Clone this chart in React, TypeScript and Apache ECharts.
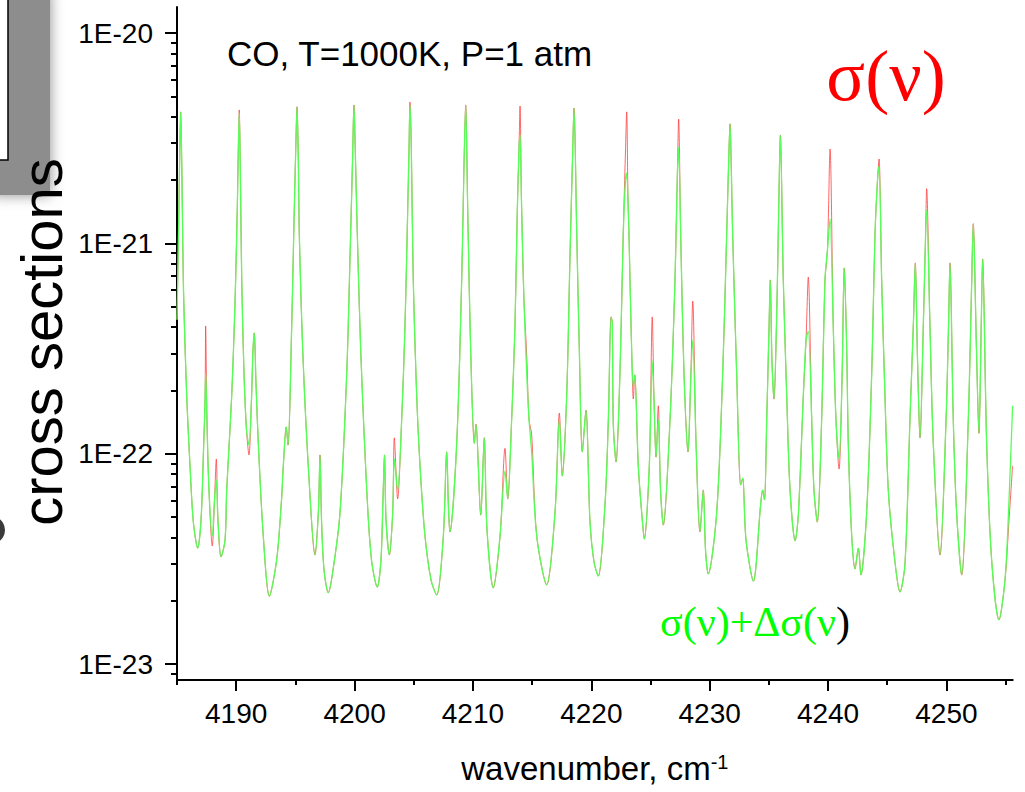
import React, { useEffect, useRef } from "react";
import * as echarts from "echarts";

// ---- Data ----
// wavenumber, cm^-1
const wavenumber = [
  4185.00, 4185.13, 4185.24, 4185.31, 4185.41, 4185.55, 4185.82, 4186.10, 4186.38, 4186.75,
  4187.03, 4187.24, 4187.37, 4187.42, 4187.53, 4187.70, 4187.98, 4188.17, 4188.32, 4188.46,
  4188.72, 4189.06, 4189.20, 4189.62, 4189.90, 4190.09, 4190.18, 4190.26, 4190.36, 4190.47,
  4190.66, 4190.87, 4191.08, 4191.29, 4191.42, 4191.53, 4191.67, 4191.87, 4192.29, 4192.80,
  4193.42, 4193.83, 4193.98, 4194.23, 4194.38, 4194.69, 4194.88, 4195.03, 4195.14, 4195.25,
  4195.33, 4195.62, 4196.09, 4196.66, 4196.95, 4197.08, 4197.21, 4197.42, 4197.78, 4198.18,
  4198.77, 4199.34, 4199.62, 4199.83, 4199.95, 4200.06, 4200.18, 4200.52, 4201.03, 4201.43,
  4201.92, 4202.23, 4202.40, 4202.53, 4202.66, 4202.94, 4203.22, 4203.36, 4203.64, 4203.98,
  4204.26, 4204.49, 4204.60, 4204.68, 4204.79, 4204.96, 4205.25, 4205.53, 4205.95, 4206.46,
  4206.94, 4207.50, 4207.78, 4207.94, 4208.06, 4208.63, 4209.05, 4209.25, 4209.39, 4209.56,
  4209.81, 4210.12, 4210.26, 4210.66, 4210.96, 4211.19, 4211.72, 4212.29, 4212.71, 4212.94,
  4213.27, 4213.55, 4213.75, 4213.89, 4213.98, 4214.10, 4214.31, 4214.54, 4214.74, 4214.96,
  4215.39, 4216.23, 4216.93, 4217.30, 4217.55, 4217.92, 4218.20, 4218.41, 4218.54, 4218.77,
  4218.99, 4219.24, 4219.55, 4219.89, 4220.23, 4220.59, 4221.16, 4221.44, 4221.67, 4221.77,
  4221.86, 4222.09, 4222.42, 4222.70, 4222.89, 4222.99, 4223.10, 4223.18, 4223.41, 4223.55,
  4223.67, 4223.97, 4224.26, 4224.48, 4224.90, 4225.15, 4225.30, 4225.47, 4225.66, 4225.85,
  4226.08, 4226.65, 4227.07, 4227.26, 4227.38, 4227.55, 4227.83, 4228.17, 4228.40, 4228.57,
  4228.85, 4229.18, 4229.46, 4229.65, 4229.88, 4230.59, 4231.10, 4231.44, 4231.61, 4231.72,
  4231.83, 4231.94, 4232.28, 4232.62, 4232.79, 4233.07, 4233.69, 4234.31, 4234.48, 4234.63,
  4234.82, 4235.01, 4235.12, 4235.26, 4235.43, 4235.69, 4235.86, 4235.97, 4236.22, 4236.51,
  4236.79, 4237.22, 4237.49, 4237.91, 4238.14, 4238.33, 4238.62, 4238.81, 4239.09, 4239.46,
  4239.74, 4239.95, 4240.17, 4240.44, 4240.67, 4240.93, 4241.18, 4241.37, 4241.58, 4241.71,
  4242.00, 4242.28, 4242.56, 4242.78, 4243.26, 4243.69, 4243.97, 4244.18, 4244.31, 4244.53,
  4244.81, 4245.09, 4245.57, 4246.08, 4246.50, 4246.92, 4247.22, 4247.37, 4247.56, 4247.77,
  4248.06, 4248.23, 4248.33, 4248.61, 4248.89, 4249.46, 4249.97, 4250.19, 4250.30, 4250.58,
  4250.85, 4251.29, 4251.85, 4252.12, 4252.27, 4252.54, 4252.75, 4252.95, 4253.06, 4253.40,
  4253.82, 4254.44, 4254.95, 4255.29, 4255.59,
];

// sigma(nu) — red curve
const sigma = [
  4.33e-22, 1.16e-21, 2.78e-21, 4.22e-21, 2.23e-21, 6.0e-22, 1.88e-22, 8.75e-23, 4.73e-23, 3.56e-23,
  4.84e-23, 1.04e-22, 1.80e-22, 4.05e-22, 1.45e-22, 6.72e-23, 3.64e-23, 6.03e-23, 9.44e-23, 4.84e-23,
  3.23e-23, 3.89e-23, 6.72e-23, 1.88e-22, 5.21e-22, 1.44e-21, 2.78e-21, 4.31e-21, 2.0e-21, 6.70e-22,
  2.42e-22, 1.30e-22, 9.86e-23, 1.80e-22, 3.11e-22, 3.75e-22, 2.19e-22, 1.12e-22, 4.06e-23, 2.10e-23,
  3.13e-23, 6.03e-23, 8.75e-23, 1.34e-22, 1.10e-22, 4.05e-22, 1.24e-21, 2.78e-21, 4.46e-21, 2.49e-21,
  1.12e-21, 3.11e-22, 8.75e-23, 3.30e-23, 5.40e-23, 9.86e-23, 4.84e-23, 2.80e-23, 2.18e-23, 2.80e-23,
  5.22e-23, 2.42e-22, 8.71e-22, 2.49e-21, 4.55e-21, 2.78e-21, 1.44e-21, 3.11e-22, 6.72e-23, 3.13e-23,
  2.32e-23, 3.13e-23, 6.03e-23, 9.86e-23, 4.84e-23, 3.30e-23, 5.22e-23, 1.19e-22, 6.10e-23, 1.45e-22,
  4.05e-22, 1.44e-21, 2.78e-21, 4.70e-21, 2.94e-21, 6.70e-22, 1.88e-22, 8.75e-23, 4.06e-23, 2.51e-23,
  2.13e-23, 4.06e-23, 1.02e-22, 5.40e-23, 4.25e-23, 1.12e-22, 6.70e-22, 2.41e-21, 4.55e-21, 1.44e-21,
  3.11e-22, 1.12e-22, 1.38e-22, 5.11e-23, 1.19e-22, 4.34e-23, 2.30e-23, 4.06e-23, 1.06e-22, 6.10e-23,
  1.45e-22, 4.05e-22, 1.44e-21, 2.78e-21, 4.50e-21, 1.61e-21, 5.38e-22, 2.98e-22, 1.45e-22, 1.24e-22,
  4.06e-23, 2.38e-23, 5.22e-23, 1.56e-22, 7.83e-23, 1.88e-22, 8.71e-22, 2.49e-21, 4.40e-21, 1.12e-21,
  3.11e-22, 1.02e-22, 1.61e-22, 4.73e-23, 3.05e-23, 2.62e-23, 5.77e-23, 1.45e-22, 4.47e-22, 4.23e-22,
  1.38e-22, 9.14e-23, 2.42e-22, 1.12e-21, 2.78e-21, 4.22e-21, 1.61e-21, 1.12e-21, 3.11e-22, 1.82e-22,
  2.37e-22, 8.75e-23, 5.22e-23, 3.93e-23, 8.75e-23, 4.47e-22, 1.80e-22, 9.64e-23, 1.69e-22, 6.72e-23,
  4.58e-23, 1.45e-22, 6.70e-22, 2.0e-21, 3.90e-21, 1.12e-21, 2.42e-22, 1.02e-22, 2.24e-22, 5.32e-22,
  1.12e-22, 4.25e-23, 6.72e-23, 3.48e-23, 2.68e-23, 5.22e-23, 2.42e-22, 1.12e-21, 2.49e-21, 3.70e-21,
  2.23e-21, 1.12e-21, 2.42e-22, 7.10e-23, 7.66e-23, 3.89e-23, 2.48e-23, 5.77e-23, 6.72e-23, 6.03e-23,
  1.45e-22, 3.87e-22, 6.70e-22, 2.79e-22, 1.82e-22, 5.38e-22, 1.79e-21, 3.27e-21, 6.70e-22, 1.88e-22,
  6.72e-23, 3.85e-23, 5.11e-23, 1.88e-22, 3.47e-22, 6.92e-22, 1.45e-22, 6.72e-23, 4.73e-23, 1.45e-22,
  6.70e-22, 9.31e-22, 2.81e-21, 4.05e-22, 1.45e-22, 8.45e-23, 2.24e-22, 7.64e-22, 3.11e-22, 1.12e-22,
  4.06e-23, 2.83e-23, 3.56e-23, 2.65e-23, 5.22e-23, 2.42e-22, 1.12e-21, 2.0e-21, 2.52e-21, 6.70e-22,
  1.88e-22, 6.72e-23, 3.37e-23, 2.20e-23, 2.99e-23, 1.45e-22, 4.33e-22, 8.07e-22, 2.79e-22, 1.19e-22,
  4.33e-22, 1.04e-21, 1.82e-21, 4.05e-22, 1.12e-22, 3.30e-23, 1.45e-22, 4.33e-22, 8.07e-22, 1.45e-22,
  5.40e-23, 2.65e-23, 1.45e-22, 6.0e-22, 1.24e-21, 3.11e-22, 1.25e-22, 4.33e-22, 8.43e-22, 1.12e-22,
  3.13e-23, 1.62e-23, 2.51e-23, 4.84e-23, 8.75e-23,
];

// sigma(nu) + delta sigma(nu) — green curve
const sigmaPlusDelta = [
  4.33e-22, 1.16e-21, 2.78e-21, 4.22e-21, 2.23e-21, 6.0e-22, 1.88e-22, 8.75e-23, 4.73e-23, 3.56e-23,
  4.84e-23, 1.04e-22, 1.80e-22, 2.42e-22, 1.45e-22, 6.72e-23, 4.06e-23, 6.03e-23, 7.50e-23, 4.84e-23,
  3.23e-23, 3.89e-23, 6.72e-23, 1.88e-22, 5.21e-22, 1.44e-21, 2.78e-21, 4.17e-21, 2.0e-21, 6.70e-22,
  2.42e-22, 1.30e-22, 1.10e-22, 1.80e-22, 3.11e-22, 3.75e-22, 2.19e-22, 1.12e-22, 4.06e-23, 2.10e-23,
  3.13e-23, 6.03e-23, 8.75e-23, 1.34e-22, 1.10e-22, 4.05e-22, 1.24e-21, 2.78e-21, 4.46e-21, 2.49e-21,
  1.12e-21, 3.11e-22, 8.75e-23, 3.30e-23, 5.40e-23, 9.86e-23, 4.84e-23, 2.80e-23, 2.18e-23, 2.80e-23,
  5.22e-23, 2.42e-22, 8.71e-22, 2.49e-21, 4.55e-21, 2.78e-21, 1.44e-21, 3.11e-22, 6.72e-23, 3.13e-23,
  2.32e-23, 3.13e-23, 6.03e-23, 9.86e-23, 4.84e-23, 3.30e-23, 5.22e-23, 9.44e-23, 6.72e-23, 1.45e-22,
  4.05e-22, 1.44e-21, 2.78e-21, 4.55e-21, 2.94e-21, 6.70e-22, 1.88e-22, 8.75e-23, 4.06e-23, 2.51e-23,
  2.13e-23, 4.06e-23, 1.02e-22, 5.40e-23, 4.25e-23, 1.12e-22, 6.70e-22, 2.41e-21, 4.55e-21, 1.44e-21,
  3.11e-22, 1.12e-22, 1.38e-22, 5.11e-23, 1.19e-22, 4.34e-23, 2.30e-23, 4.06e-23, 8.28e-23, 6.10e-23,
  1.45e-22, 4.05e-22, 1.44e-21, 2.78e-21, 3.27e-21, 1.61e-21, 5.38e-22, 2.45e-22, 1.45e-22, 1.02e-22,
  4.06e-23, 2.38e-23, 5.22e-23, 1.45e-22, 7.83e-23, 1.88e-22, 8.71e-22, 2.49e-21, 4.40e-21, 1.12e-21,
  3.11e-22, 1.02e-22, 1.61e-22, 4.73e-23, 3.05e-23, 2.62e-23, 5.77e-23, 1.45e-22, 4.47e-22, 4.23e-22,
  1.38e-22, 9.14e-23, 2.42e-22, 1.12e-21, 2.0e-21, 2.16e-21, 1.61e-21, 1.12e-21, 3.11e-22, 2.07e-22,
  2.37e-22, 8.75e-23, 5.22e-23, 3.93e-23, 8.75e-23, 2.76e-22, 1.80e-22, 9.64e-23, 1.45e-22, 6.72e-23,
  4.58e-23, 1.45e-22, 6.70e-22, 2.0e-21, 2.87e-21, 1.12e-21, 2.42e-22, 1.02e-22, 2.24e-22, 3.47e-22,
  1.12e-22, 4.25e-23, 6.72e-23, 3.48e-23, 2.68e-23, 5.22e-23, 2.42e-22, 1.12e-21, 2.49e-21, 3.70e-21,
  2.23e-21, 1.12e-21, 2.42e-22, 7.10e-23, 7.66e-23, 3.89e-23, 2.48e-23, 5.77e-23, 6.72e-23, 6.03e-23,
  1.45e-22, 3.87e-22, 6.70e-22, 2.79e-22, 1.82e-22, 5.38e-22, 1.79e-21, 3.27e-21, 6.70e-22, 1.88e-22,
  6.72e-23, 3.85e-23, 5.11e-23, 1.88e-22, 3.47e-22, 3.83e-22, 1.45e-22, 6.72e-23, 4.73e-23, 1.45e-22,
  6.70e-22, 9.31e-22, 1.31e-21, 4.05e-22, 1.45e-22, 9.44e-23, 2.24e-22, 7.64e-22, 3.11e-22, 1.12e-22,
  4.06e-23, 2.83e-23, 3.56e-23, 2.65e-23, 5.22e-23, 2.42e-22, 1.12e-21, 2.0e-21, 2.33e-21, 6.70e-22,
  1.88e-22, 6.72e-23, 3.37e-23, 2.20e-23, 2.99e-23, 1.45e-22, 4.33e-22, 8.07e-22, 2.79e-22, 1.19e-22,
  4.33e-22, 1.04e-21, 1.44e-21, 4.05e-22, 1.12e-22, 3.30e-23, 1.45e-22, 4.33e-22, 8.07e-22, 1.45e-22,
  5.40e-23, 2.65e-23, 1.45e-22, 6.0e-22, 1.24e-21, 3.11e-22, 1.25e-22, 4.33e-22, 8.43e-22, 1.12e-22,
  3.13e-23, 1.62e-23, 2.51e-23, 6.03e-23, 1.69e-22,
];

// axes
const xMajorTicks = [4190, 4200, 4210, 4220, 4230, 4240, 4250];
const xMinorTicks = [4185, 4195, 4205, 4215, 4225, 4235, 4245, 4255];
const yDecadeExponents = [-23, -22, -21, -20]; // labels 1E-23 ... 1E-20
const xRange = [4185, 4255.6];
const yExponentRange = [-23.076, -19.876];

const SANS = "'Liberation Sans', Arial, Helvetica, sans-serif";
const SERIF = "'Liberation Serif', 'Times New Roman', serif";

export default function App() {
  const ref = useRef<HTMLDivElement>(null);

  useEffect(() => {
    if (!ref.current) return;
    const chart = echarts.init(ref.current, null, { renderer: "svg" });

    const yMinorTicks: number[] = [];
    for (let n = -24; n <= -20; n++) {
      for (let k = 2; k <= 9; k++) {
        const v = n + Math.log10(k);
        if (v >= yExponentRange[0] && v <= yExponentRange[1]) yMinorTicks.push(v);
      }
    }

    const toPoints = (vals: number[]) =>
      wavenumber.map((w, i) => [w, Math.log10(vals[i])]);

    const axisLineStyle = { color: "#000", width: 2 };

    const option: any = {
      animation: false,
      backgroundColor: "#fff",
      grid: {
        left: 177,
        top: 7,
        width: 835.7,
        height: 673,
        containLabel: false,
        outerBoundsMode: "none",
      },
      xAxis: [
        {
          type: "value",
          position: "bottom",
          min: xRange[0],
          max: xRange[1],
          axisLine: { show: true, onZero: false, lineStyle: axisLineStyle },
          axisTick: {
            show: true,
            customValues: xMajorTicks,
            length: 11,
            lineStyle: axisLineStyle,
          },
          axisLabel: {
            customValues: xMajorTicks,
            color: "#000",
            fontSize: 28,
            fontFamily: SANS,
            margin: 19,
            formatter: (v: number) => String(v),
          },
          splitLine: { show: false },
          name: "wavenumber, cm{sup|-1}",
          nameLocation: "middle",
          nameGap: 72,
          nameMoveOverlap: false,
          nameTextStyle: {
            color: "#000",
            fontSize: 33,
            fontFamily: SANS,
            rich: {
              sup: {
                color: "#000",
                fontSize: 20,
                fontFamily: SANS,
                verticalAlign: "top",
              },
            },
          },
        },
        {
          type: "value",
          position: "bottom",
          min: xRange[0],
          max: xRange[1],
          axisLine: { show: false, onZero: false },
          axisTick: {
            show: true,
            customValues: xMinorTicks,
            length: 5,
            lineStyle: axisLineStyle,
          },
          axisLabel: { show: false },
          splitLine: { show: false },
        },
      ],
      yAxis: [
        {
          type: "value",
          position: "left",
          min: yExponentRange[0],
          max: yExponentRange[1],
          axisLine: { show: true, onZero: false, lineStyle: axisLineStyle },
          axisTick: {
            show: true,
            customValues: yDecadeExponents,
            length: 12,
            lineStyle: axisLineStyle,
          },
          axisLabel: {
            customValues: yDecadeExponents,
            color: "#000",
            fontSize: 28,
            fontFamily: SANS,
            margin: 24,
            formatter: (v: number) => "1E" + Math.round(v),
          },
          splitLine: { show: false },
        },
        {
          type: "value",
          position: "left",
          min: yExponentRange[0],
          max: yExponentRange[1],
          axisLine: { show: false, onZero: false },
          axisTick: {
            show: true,
            customValues: yMinorTicks,
            length: 6,
            lineStyle: axisLineStyle,
          },
          axisLabel: { show: false },
          splitLine: { show: false },
        },
      ],
      series: [
        {
          name: "σ(ν)",
          type: "line",
          xAxisIndex: 0,
          yAxisIndex: 0,
          data: toPoints(sigma),
          showSymbol: false,
          symbol: "none",
          smooth: 0.3,
          lineStyle: { color: "#ff4040", width: 1, opacity: 0.8 },
          z: 2,
        },
        {
          name: "σ(ν)+Δσ(ν)",
          type: "line",
          xAxisIndex: 0,
          yAxisIndex: 0,
          data: toPoints(sigmaPlusDelta),
          showSymbol: false,
          symbol: "none",
          smooth: 0.3,
          lineStyle: { color: "#55ff55", width: 1.3 },
          z: 3,
        },
      ],
      graphic: [
        {
          type: "rect",
          shape: { x: -10, y: -10, width: 60, height: 205 },
          style: {
            fill: "#8d8d8d",
            shadowBlur: 14,
            shadowColor: "#8d8d8d",
          },
          z: 1,
        },
        {
          type: "rect",
          shape: { x: -6, y: -6, width: 14, height: 166 },
          style: { fill: "#fff", stroke: "#000", lineWidth: 1.5 },
          z: 2,
        },
        {
          type: "circle",
          shape: { cx: -9, cy: 530, r: 14 },
          style: { fill: "#3a3a3a" },
          z: 2,
        },
        {
          type: "text",
          x: 41,
          y: 342,
          rotation: Math.PI / 2,
          style: {
            text: "cross sections",
            fontSize: 58,
            fontFamily: SANS,
            fill: "#000",
            align: "center",
            verticalAlign: "middle",
          },
          z: 5,
        },
        {
          type: "text",
          x: 227,
          y: 53,
          style: {
            text: "CO, T=1000K, P=1 atm",
            fontSize: 35,
            fontFamily: SANS,
            fill: "#000",
            align: "left",
            verticalAlign: "middle",
          },
          z: 5,
        },
        {
          type: "text",
          x: 886,
          y: 76,
          style: {
            text: "σ(ν)",
            fontSize: 72,
            fontFamily: SERIF,
            fill: "#ff0000",
            align: "center",
            verticalAlign: "middle",
          },
          z: 5,
        },
        {
          type: "text",
          x: 755,
          y: 622,
          style: {
            text: "{g|σ(ν)+Δσ(ν}{k|)}",
            align: "center",
            verticalAlign: "middle",
            rich: {
              g: { fill: "#00ff00", fontSize: 42, fontFamily: SERIF },
              k: { fill: "#000", fontSize: 42, fontFamily: SERIF },
            },
          },
          z: 5,
        },
      ],
    };

    chart.setOption(option);
    return () => chart.dispose();
  }, []);

  return (
    <div
      ref={ref}
      style={{ position: "absolute", left: 0, top: 0, width: 1025, height: 792 }}
    />
  );
}
